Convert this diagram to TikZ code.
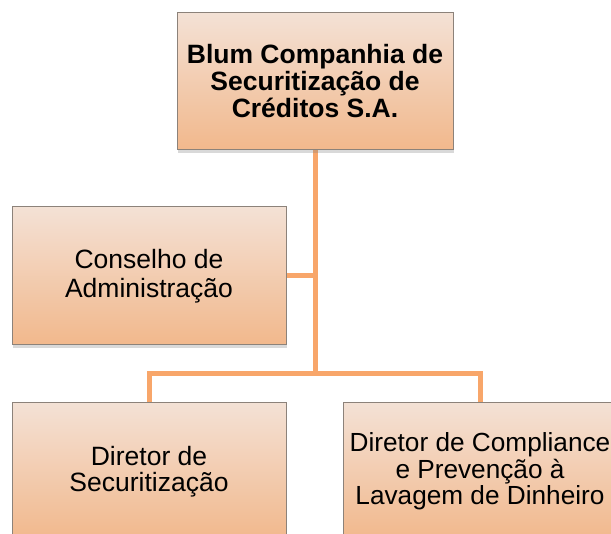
\documentclass[tikz,border=0pt]{standalone}
\usepackage{fontspec}
\setmainfont{Liberation Sans}
\usetikzlibrary{shadows,backgrounds}

\definecolor{boxtop}{RGB}{243,225,213}
\definecolor{boxbot}{RGB}{242,184,140}
\definecolor{boxline}{RGB}{140,130,122}
\definecolor{linkcol}{RGB}{248,166,106}

\begin{document}
\begin{tikzpicture}[x=1pt,y=-1pt]
\tikzstyle{every node}+=[inner sep=0pt, align=center, font=\fontsize{26.5}{28.5}\selectfont]
\tikzstyle{orgbox}=[draw=boxline, line width=1pt, top color=boxtop, bottom color=boxbot, minimum width=274pt, minimum height=137pt, drop shadow={shadow xshift=1pt, shadow yshift=-3pt, opacity=0.3}]
\tikzstyle{link}=[draw=linkcol, line width=5pt]
\useasboundingbox (0,0) rectangle (611,534);
% boxes
\node [orgbox, minimum width=276pt, font=\bfseries\fontsize{26.5}{27}\selectfont] (cia) at (315,81.5) {Blum Companhia de\\Securitização de\\Créditos S.A.};
\node [orgbox, minimum height=138pt] (conselho) at (149,276) {Conselho de\\Administração};
\node [orgbox, font=\fontsize{26.5}{26.5}\selectfont] (dirsec) at (149,471.5) {Diretor de\\Securitização};
\node [orgbox, font=\fontsize{26.2}{26.5}\selectfont] (dircomp) at (480,471.5) {Diretor de Compliance\\e Prevenção à\\Lavagem de Dinheiro};
\coordinate (bus) at (315,374);
% connectors
\begin{scope}[on background layer]
\draw [link] (cia.south) -- (bus);
\draw [link] (conselho.east) -- (conselho.east -| cia.south);
\draw [link] (dirsec.north) -- (dirsec.north |- bus) -- (dircomp.north |- bus) -- (dircomp.north);
\end{scope}
\end{tikzpicture}
\end{document}
